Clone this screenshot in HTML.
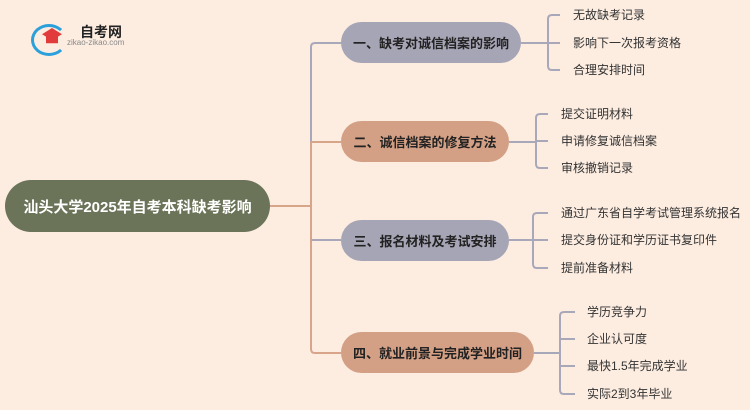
<!DOCTYPE html>
<html><head><meta charset="utf-8"><style>
body{margin:0;width:750px;height:410px;background:#FDEDE1;position:relative;overflow:hidden;font-family:"Liberation Sans","Noto Sans CJK SC",sans-serif}
.n{position:absolute;border-radius:21px;display:flex;align-items:center;justify-content:center;font-weight:bold;font-size:13px;color:#222;white-space:nowrap}
.l{position:absolute;font-size:12px;color:#333;line-height:16px;white-space:nowrap}
svg{position:absolute;left:0;top:0}
</style></head><body>
<svg width="750" height="410" fill="none" stroke-width="2">
<path d="M270 206 H311" stroke="#D9A58A"/>
<path d="M341 43 H315 Q311 43 311 47 V142" stroke="#A9A8BA"/>
<path d="M311 142 V349 Q311 353 315 353 H341 M311 142 H341" stroke="#D9A58A"/>
<path d="M311 240 H341" stroke="#A9A8BA"/>
<path d="M521 43 H548 M560 15 H552 Q548 15 548 19 V66 Q548 70 552 70 H560 M548 43 H560" stroke="#A9A8BA"/>
<path d="M509 142 H536 M548 114 H540 Q536 114 536 118 V164 Q536 168 540 168 H548 M536 141 H548" stroke="#A9A8BA"/>
<path d="M509 240 H533 M548 213 H537 Q533 213 533 217 V264 Q533 268 537 268 H548 M533 240 H548" stroke="#A9A8BA"/>
<path d="M534 353 H560 M575 312 H564 Q560 312 560 316 V390 Q560 394 564 394 H575 M560 339 H575 M560 366 H575" stroke="#A9A8BA"/>
</svg>
<div style="position:absolute;left:31px;top:24px;width:30px;height:26px;border-radius:50%;border:3px solid #2BA0DA;border-right-color:transparent"></div>
<div style="position:absolute;left:42px;top:28px;width:20px;height:18px;background:#E23B3B;clip-path:polygon(50% 0,100% 35%,80% 48%,80% 85%,20% 85%,20% 48%,0 35%)"></div>
<div style="position:absolute;left:80px;top:22px;font-size:14px;font-weight:bold;color:#222">自考网</div>
<div style="position:absolute;left:67px;top:38px;font-size:8px;color:#888">zikao-zikao.com</div>
<div class="n" style="left:5px;top:180px;width:265px;height:52px;border-radius:26px;background:#6B7459;color:#fff;font-size:15px">汕头大学2025年自考本科缺考影响</div>
<div class="n" style="left:341px;top:22px;width:180px;height:41px;background:#A6A5B5">一、缺考对诚信档案的影响</div>
<div class="n" style="left:341px;top:121px;width:168px;height:41px;background:#D3A085">二、诚信档案的修复方法</div>
<div class="n" style="left:341px;top:220px;width:168px;height:41px;background:#A6A5B5">三、报名材料及考试安排</div>
<div class="n" style="left:341px;top:332px;width:193px;height:41px;background:#D3A085">四、就业前景与完成学业时间</div>
<div class="l" style="left:573px;top:7px">无故缺考记录</div>
<div class="l" style="left:573px;top:35px">影响下一次报考资格</div>
<div class="l" style="left:573px;top:62px">合理安排时间</div>
<div class="l" style="left:561px;top:106px">提交证明材料</div>
<div class="l" style="left:561px;top:133px">申请修复诚信档案</div>
<div class="l" style="left:561px;top:160px">审核撤销记录</div>
<div class="l" style="left:561px;top:205px">通过广东省自学考试管理系统报名</div>
<div class="l" style="left:561px;top:232px">提交身份证和学历证书复印件</div>
<div class="l" style="left:561px;top:260px">提前准备材料</div>
<div class="l" style="left:587px;top:304px">学历竞争力</div>
<div class="l" style="left:587px;top:331px">企业认可度</div>
<div class="l" style="left:587px;top:358px">最快1.5年完成学业</div>
<div class="l" style="left:587px;top:386px">实际2到3年毕业</div>
</body></html>
